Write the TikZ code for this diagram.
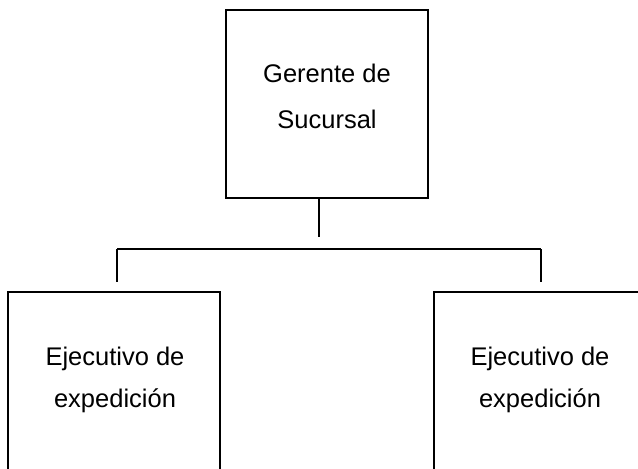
\documentclass[tikz,border=0pt]{standalone}
\usepackage{fontspec}
\setmainfont{Liberation Sans}
\begin{document}
\begin{tikzpicture}[x=1pt,y=-1pt,
  box/.style={draw=black, line width=1.6pt, rectangle, inner sep=0pt},
  lbl/.style={inner sep=0pt, align=center, text=black},
  topfont/.style={font=\fontsize{25.5}{46}\selectfont},
  lowfont/.style={font=\fontsize{25.5}{42}\selectfont},
  conn/.style={draw=black, line width=1.6pt}]
\useasboundingbox (0,0) rectangle (638,469);
\clip (0,0) rectangle (638,469);
% boxes
\node[box, minimum width=202pt, minimum height=188pt] (g) at (327,104) {};
\node[box, minimum width=212pt, minimum height=220pt] (l) at (114,402) {};
\node[box, minimum width=240pt, minimum height=220pt] (r) at (554,402) {};
% texts
\node[lbl, topfont] (gt) at (327,96.7) {Gerente de\\Sucursal};
\node[lbl, lowfont] (lt) at (115,379.5) {Ejecutivo de\\expedición};
\node[lbl, lowfont] (rt) at (540,379.5) {Ejecutivo de\\expedición};
% connectors
\coordinate (busM) at (319,249);
\coordinate (busL) at (117,249);
\coordinate (busR) at (541,249);
\draw[conn, shorten >=12pt] (busM |- g.south) -- (busM);
\draw[conn] (busL) -- (busR);
\draw[conn, shorten >=9pt] (busL) -- (busL |- l.north);
\draw[conn, shorten >=9pt] (busR) -- (busR |- r.north);
\end{tikzpicture}
\end{document}
